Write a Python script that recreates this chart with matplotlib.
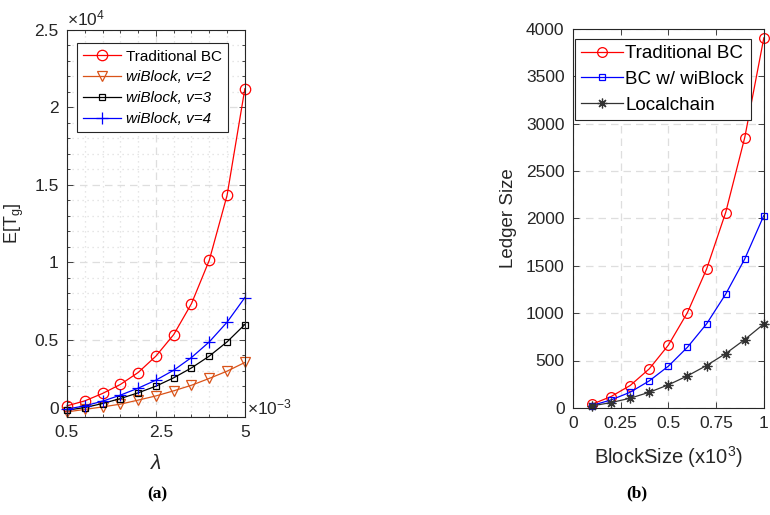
import matplotlib
matplotlib.use("Agg")
import matplotlib.pyplot as plt
from matplotlib.ticker import FixedLocator, MultipleLocator
from matplotlib.transforms import ScaledTranslation

plt.rcParams['font.family'] = ['Liberation Sans', 'DejaVu Sans']
plt.rcParams['mathtext.fontset'] = 'custom'
plt.rcParams['mathtext.rm'] = 'Liberation Sans'
plt.rcParams['mathtext.it'] = 'Liberation Sans:italic'

# ---------------- data (a) ----------------
lam = [0.5, 0.95, 1.4, 1.85, 2.3, 2.75, 3.2, 3.65, 4.1, 4.55, 5.0]   # x 1e-3
lam_ticks = [0.5, 2.75, 5.0]
lam_ticklabels = ['0.5', '2.5', '5']
trad_a = [0.073, 0.105, 0.153, 0.211, 0.288, 0.394, 0.533, 0.733, 1.013, 1.432, 2.12]  # x 1e4
wib_v2 = [0.034, 0.050, 0.066, 0.084, 0.110, 0.137, 0.170, 0.206, 0.250, 0.297, 0.353]
wib_v3 = [0.045, 0.062, 0.088, 0.120, 0.157, 0.200, 0.254, 0.318, 0.394, 0.486, 0.598]
wib_v4 = [0.052, 0.073, 0.103, 0.142, 0.187, 0.239, 0.303, 0.385, 0.486, 0.613, 0.772]
labels_a = ['Traditional BC', 'wiBlock, v=2', 'wiBlock, v=3', 'wiBlock, v=4']
yticks_a = [0, 0.5, 1, 1.5, 2, 2.5]
yticklabels_a = ['0', '0.5', '1', '1.5', '2', '2.5']

# ---------------- data (b) ----------------
block = [0.1, 0.2, 0.3, 0.4, 0.5, 0.6, 0.7, 0.8, 0.9, 1.0]   # x 1e3
trad_b = [38, 120, 236, 412, 662, 1006, 1464, 2061, 2853, 3905]
wib_b = [25, 84, 165, 285, 440, 640, 886, 1200, 1572, 2030]
local_b = [21, 56, 102, 165, 243, 338, 447, 573, 721, 886]
labels_b = ['Traditional BC', 'BC w/ wiBlock', 'Localchain']
xticks_b = [0, 0.25, 0.5, 0.75, 1]
xticklabels_b = ['0', '0.25', '0.5', '0.75', '1']

RED = (1, 0, 0)
ORANGE = (0.85, 0.325, 0.098)
BLUE = (0, 0, 1)
DARK = (0.15, 0.15, 0.15)
GRID = '#dedede'

fig = plt.figure(figsize=(7.7, 5.15), dpi=100)

def style_axes(ax):
    for s in ax.spines.values():
        s.set_color(DARK)
        s.set_linewidth(0.8)
    ax.tick_params(which='both', direction='in', top=True, right=True,
                   colors=DARK, labelcolor=DARK, labelsize=12.5, width=0.6)
    ax.tick_params(which='major', length=4, pad=6)
    ax.tick_params(which='minor', length=2)
    ax.set_axisbelow(True)

# ---------------- (a) ----------------
ax1 = fig.add_axes([0.087, 0.190, 0.231, 0.752])
ax1.plot(lam, trad_a, '-o', color=RED, lw=0.9, ms=7.5, mfc='none', mew=0.9, label=labels_a[0], clip_on=False)
ax1.plot(lam, wib_v2, '-v', color=ORANGE, lw=0.9, ms=7, mfc='none', mew=0.9, label=labels_a[1], clip_on=False)
ax1.plot(lam, wib_v3, '-s', color='black', lw=0.9, ms=5, mfc='none', mew=0.9, label=labels_a[2], clip_on=False)
ax1.plot(lam, wib_v4, '-+', color=BLUE, lw=0.9, ms=8, mew=0.9, label=labels_a[3], clip_on=False)
ax1.set_xlim(0.5, 5.0)
ax1.set_ylim(0, 2.5)
ax1.set_xticks(lam_ticks)
ax1.set_xticklabels(lam_ticklabels)
ax1.xaxis.set_minor_locator(FixedLocator(lam))
ax1.set_yticks(yticks_a)
ax1.set_yticklabels(yticklabels_a)
ax1.yaxis.set_minor_locator(MultipleLocator(0.1))
style_axes(ax1)
ax1.grid(which='major', color=GRID, linestyle=(0, (6, 4)), linewidth=0.9)
ax1.grid(which='minor', color=GRID, linestyle=(0, (1, 3)), linewidth=0.9)
ax1.set_xlabel(r'$\lambda$', fontsize=15, color=DARK, labelpad=10)
ax1.set_ylabel(r'E[T$_\mathrm{g}$]', fontsize=13, color=DARK, labelpad=6)
ax1.text(0.0, 1.005, r'$\times10^{4}$', transform=ax1.transAxes, fontsize=12.5,
         color=DARK, ha='left', va='bottom')
ax1.text(1.01, 0.025, r'$\times10^{-3}$', transform=ax1.transAxes, fontsize=12.5,
         color=DARK, ha='left', va='center')
# shift the "0" y-label up and the "2.5" x-label right, like the reference
lbl0 = ax1.yaxis.get_major_ticks()[0].label1
lbl0.set_transform(lbl0.get_transform() + ScaledTranslation(0, 9 / 100, fig.dpi_scale_trans))
lblx = ax1.xaxis.get_major_ticks()[1].label1
lblx.set_transform(lblx.get_transform() + ScaledTranslation(5 / 100, 0, fig.dpi_scale_trans))

leg1 = ax1.legend(loc='upper left', bbox_to_anchor=(0.056, 0.965), borderaxespad=0,
                  fontsize=11, handlelength=2.5, handletextpad=0.3, labelspacing=0.45,
                  borderpad=0.4, fancybox=False, framealpha=1, edgecolor=DARK)
leg1.get_frame().set_linewidth(0.8)
for t in leg1.get_texts()[1:]:
    t.set_fontstyle('italic')
fig.text(0.204, 0.040, '(a)', fontsize=12.5, fontweight='bold', family='Liberation Serif',
         ha='center', va='center')

# ---------------- (b) ----------------
ax2 = fig.add_axes([0.744, 0.208, 0.248, 0.736])
ax2.plot(block, trad_b, '-o', color=RED, lw=0.9, ms=7, mfc='none', mew=0.9, label=labels_b[0], clip_on=False)
ax2.plot(block, wib_b, '-s', color=BLUE, lw=0.9, ms=5, mfc='none', mew=0.9, label=labels_b[1], clip_on=False)
ax2.plot(block, local_b, linestyle='-', marker=(8, 2, 0), color=(0.2, 0.2, 0.2), lw=0.9, ms=7,
         mew=0.9, label=labels_b[2], clip_on=False)
ax2.set_xlim(0, 1)
ax2.set_ylim(0, 4000)
ax2.set_xticks(xticks_b)
ax2.set_xticklabels(xticklabels_b)
ax2.yaxis.set_major_locator(MultipleLocator(500))
style_axes(ax2)
ax2.grid(which='major', color=GRID, linestyle=(0, (6, 4)), linewidth=0.9)
ax2.set_xlabel(r'BlockSize (x10$^{3}$)', fontsize=14.5, color=DARK, labelpad=9)
ax2.set_ylabel('Ledger Size', fontsize=13.5, color=DARK, labelpad=6)
leg2 = ax2.legend(loc='upper left', bbox_to_anchor=(0.01, 0.974), borderaxespad=0,
                  fontsize=13.5, handlelength=2.2, handletextpad=0.15, labelspacing=0.45,
                  borderpad=0.35, fancybox=False, framealpha=1, edgecolor=DARK)
leg2.get_frame().set_linewidth(0.8)
fig.text(0.827, 0.042, '(b)', fontsize=12.5, fontweight='bold', family='Liberation Serif',
         ha='center', va='center')

fig.savefig('out.png', dpi=100)
